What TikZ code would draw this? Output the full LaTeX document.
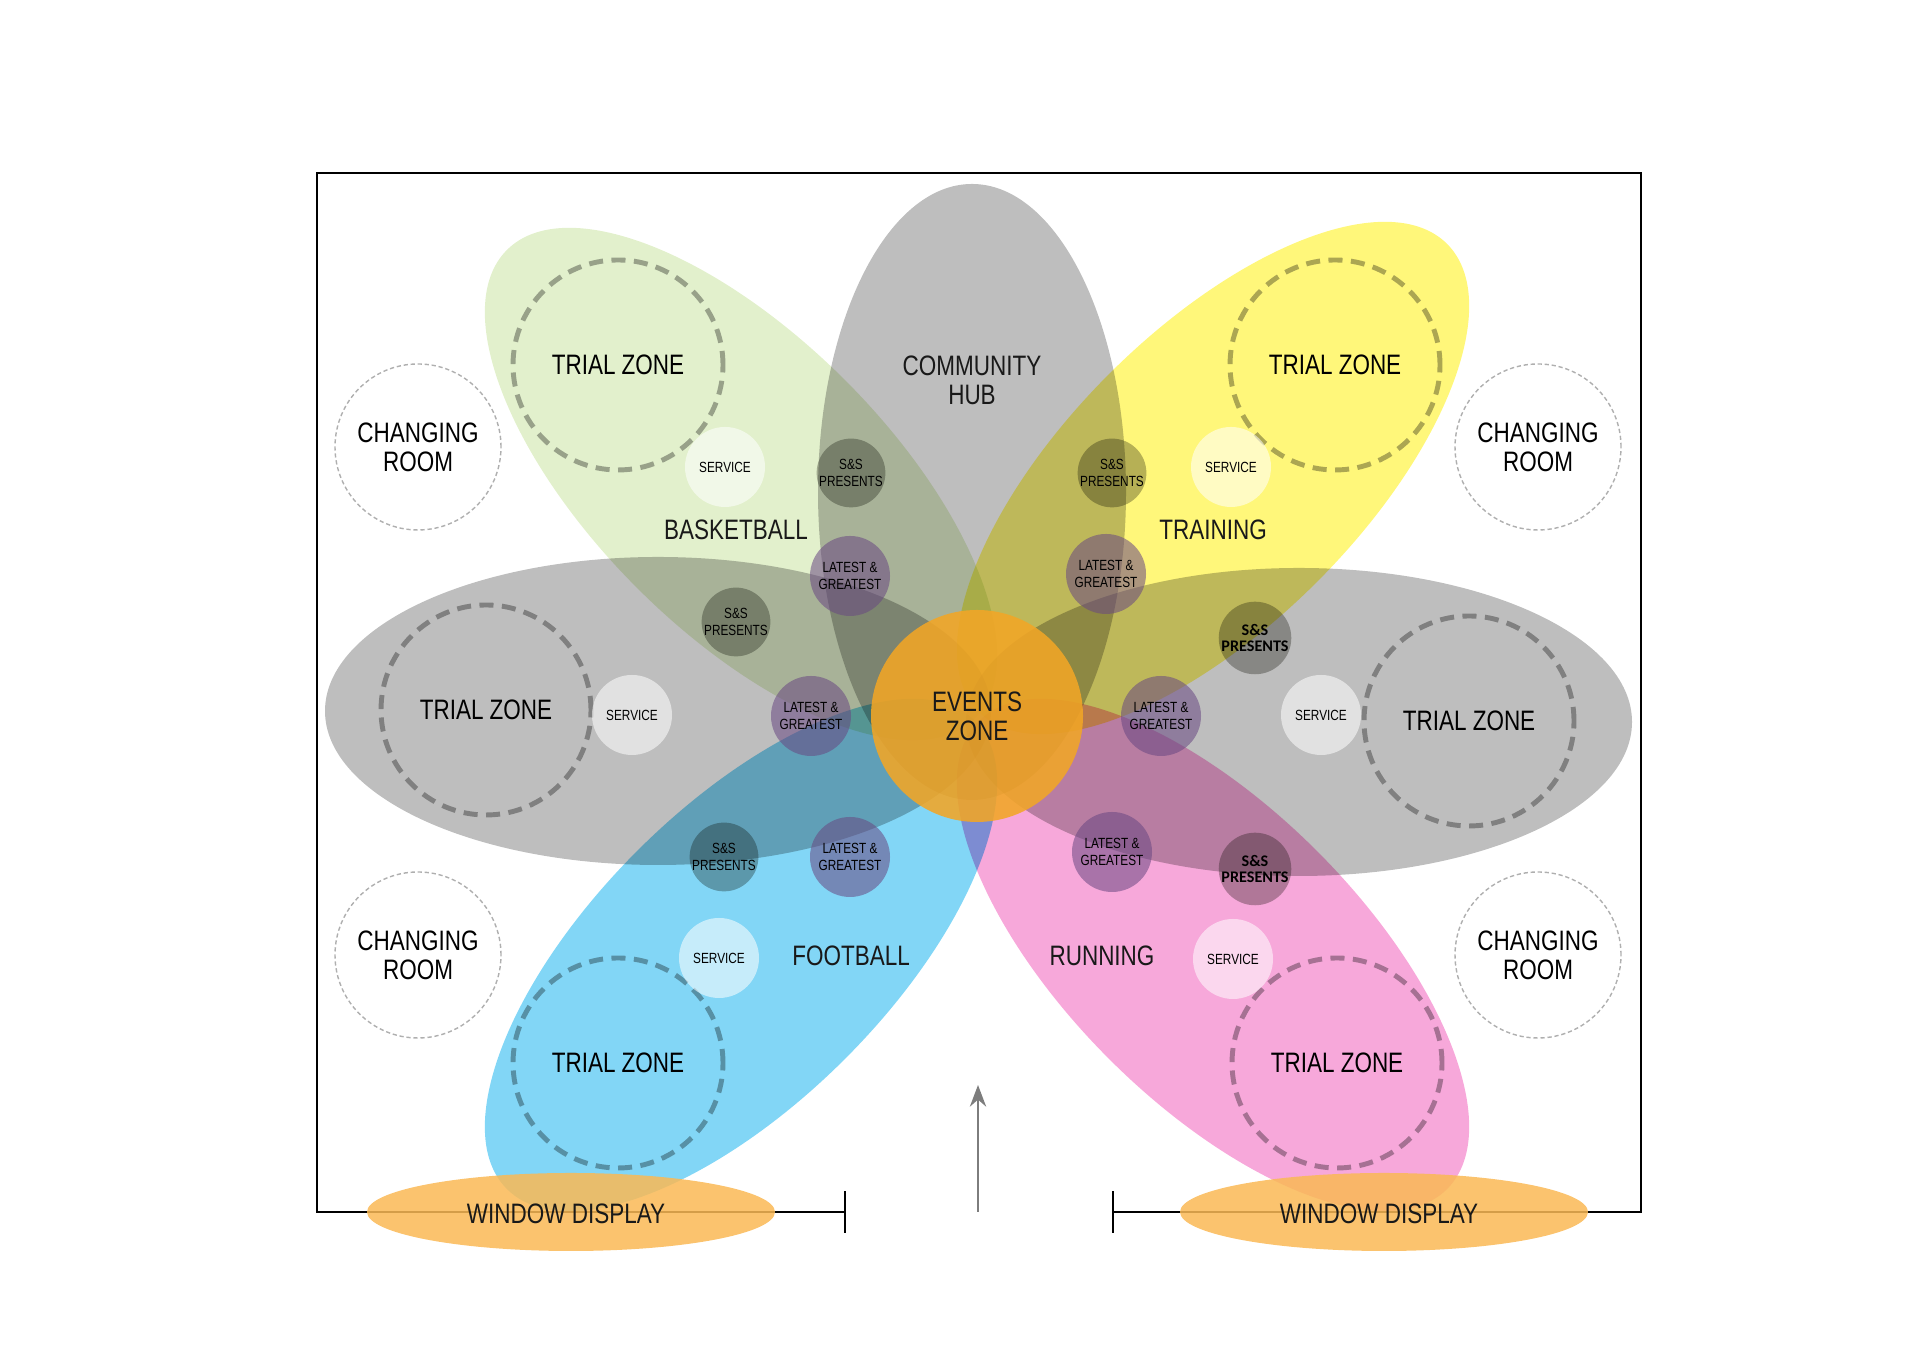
\documentclass[tikz,border=0pt]{standalone}
\usepackage{fontspec}
\setmainfont{Liberation Sans}[FakeStretch=0.8]
\newfontfamily\ssbold{Carlito}[BoldFont={Carlito Bold}]
\usepackage{tikz}
\usetikzlibrary{arrows.meta}

\definecolor{hubgray}{RGB}{190,190,190}
\definecolor{basketgreen}{RGB}{226,240,204}
\definecolor{trainyellow}{RGB}{255,247,122}
\definecolor{footblue}{RGB}{130,214,246}
\definecolor{runpink}{RGB}{247,168,218}
\definecolor{eventorange}{RGB}{242,166,38}
\definecolor{windoworange}{RGB}{250,185,85}
\definecolor{dashgray}{RGB}{172,172,172}
\definecolor{ssgray}{RGB}{182,182,178}
\definecolor{lgpurple}{RGB}{105,72,130}
\definecolor{roomgray}{RGB}{175,175,175}
\definecolor{inkgray}{RGB}{125,125,125}

\newcommand{\bigtxt}{\fontsize{8}{8.3}\selectfont}
\newcommand{\smalltxt}{\fontsize{4.2}{4.6}\selectfont}

\begin{document}
\begin{tikzpicture}[>=Stealth,
    petal/.style={blend mode=multiply},
    trial/.style={circle, draw=dashgray, line width=1.4pt, dash pattern=on 4pt off 2.4pt,
        minimum size=2.1cm, inner sep=0pt, blend mode=multiply, font=\bigtxt},
    room/.style={circle, draw=roomgray, line width=0.4pt, dash pattern=on 1.2pt off 0.8pt,
        minimum size=1.66cm, inner sep=0pt, align=center, font=\bigtxt},
    service/.style={circle, fill=white, fill opacity=0.55, text opacity=1,
        minimum size=0.8cm, inner sep=0pt, font=\smalltxt},
    sands/.style={circle, fill=ssgray, blend mode=multiply, minimum size=0.68cm,
        inner sep=0pt, align=center, font=\smalltxt},
    latest/.style={circle, fill=lgpurple, fill opacity=0.55, text opacity=1, minimum size=0.8cm,
        inner sep=0pt, align=center, font=\smalltxt},
    zonelabel/.style={align=center, font=\bigtxt, text=black!90},
    window/.style={fill=windoworange, fill opacity=0.85}]
    \useasboundingbox (0,0) rectangle (19.2,13.58);

    % the six bubbles round the events zone
    \fill[hubgray, petal] (9.72,8.66) ellipse (1.54 and 3.08);
    \fill[hubgray, petal] (6.58,6.47) ellipse (3.33 and 1.54);
    \fill[hubgray, petal] (12.99,6.36) ellipse (3.33 and 1.54);
    \fill[basketgreen, petal, shift={(7.41,8.74)}, rotate=135] (0,0) ellipse (3.31 and 1.47);
    \fill[trainyellow, petal, shift={(12.13,8.80)}, rotate=45] (0,0) ellipse (3.31 and 1.47);
    \fill[footblue, petal, shift={(7.41,4.03)}, rotate=45] (0,0) ellipse (3.31 and 1.47);
    \fill[runpink, petal, shift={(12.13,4.03)}, rotate=135] (0,0) ellipse (3.31 and 1.47);

    \node[trial] (trialbasket) at (6.18,9.93) {TRIAL ZONE};
    \node[trial] (trialtrain) at (13.35,9.93) {TRIAL ZONE};
    \node[trial] (trialwest) at (4.86,6.48) {TRIAL ZONE};
    \node[trial] (trialeast) at (14.69,6.37) {TRIAL ZONE};
    \node[trial] (trialfoot) at (6.18,2.95) {TRIAL ZONE};
    \node[trial] (trialrun) at (13.37,2.95) {TRIAL ZONE};

    \node[room] (roomnw) at (4.18,9.11) {CHANGING\\ROOM};
    \node[room] (roomne) at (15.38,9.11) {CHANGING\\ROOM};
    \node[room] (roomsw) at (4.18,4.03) {CHANGING\\ROOM};
    \node[room] (roomse) at (15.38,4.03) {CHANGING\\ROOM};

    \node[service] (servbasket) at (7.25,8.91) {SERVICE};
    \node[service] (servtrain) at (12.31,8.91) {SERVICE};
    \node[service] (servwest) at (6.32,6.43) {SERVICE};
    \node[service] (serveast) at (13.21,6.43) {SERVICE};
    \node[service] (servfoot) at (7.19,4.00) {SERVICE};
    \node[service] (servrun) at (12.33,3.99) {SERVICE};

    \node[sands] (ssbasket) at (8.51,8.85) {S\&S\\PRESENTS};
    \node[sands] (sstrain) at (11.12,8.85) {S\&S\\PRESENTS};
    \node[sands] (sswest) at (7.36,7.36) {S\&S\\PRESENTS};
    \node[sands, font=\ssbold\bfseries\fontsize{4.6}{4.8}\selectfont] (sseast) at (12.55,7.20) {S\&S\\PRESENTS};
    \node[sands] (ssfoot) at (7.24,5.01) {S\&S\\PRESENTS};
    \node[sands, font=\ssbold\bfseries\fontsize{4.6}{4.8}\selectfont] (ssrun) at (12.55,4.89) {S\&S\\PRESENTS};

    \node[latest] (lgbasket) at (8.50,7.82) {LATEST \&\\GREATEST};
    \node[latest] (lgtrain) at (11.06,7.84) {LATEST \&\\GREATEST};
    \node[latest] (lgwest) at (8.11,6.42) {LATEST \&\\GREATEST};
    \node[latest] (lgeast) at (11.61,6.42) {LATEST \&\\GREATEST};
    \node[latest] (lgfoot) at (8.50,5.01) {LATEST \&\\GREATEST};
    \node[latest] (lgrun) at (11.12,5.06) {LATEST \&\\GREATEST};

    \node[circle, fill=eventorange, fill opacity=0.88, text opacity=1, minimum size=2.12cm,
        inner sep=0pt, zonelabel] (events) at (9.77,6.42) {EVENTS\\ZONE};

    \node[zonelabel] (hub) at (9.72,9.78) {COMMUNITY\\HUB};
    \node[zonelabel] (basketball) at (7.36,8.28) {BASKETBALL};
    \node[zonelabel] (training) at (12.13,8.28) {TRAINING};
    \node[zonelabel] (football) at (8.51,4.02) {FOOTBALL};
    \node[zonelabel] (running) at (11.02,4.02) {RUNNING};

    % shop front
    \draw[line width=0.7pt] (8.45,1.46) -- (3.17,1.46) -- (3.17,11.85) -- (16.41,11.85)
        -- (16.41,1.46) -- (11.13,1.46);
    \draw[line width=0.7pt] (8.45,1.25) -- (8.45,1.67);
    \draw[line width=0.7pt] (11.13,1.25) -- (11.13,1.67);
    \coordinate (door) at (9.78,1.46);
    \coordinate (doortip) at (9.78,2.73);
    \draw[->, inkgray, line width=0.7pt] (door) -- (doortip);

    \fill[window] (5.71,1.46) ellipse (2.04 and 0.39);
    \fill[window] (13.84,1.46) ellipse (2.04 and 0.39);
    \node[zonelabel] (windowwest) at (5.66,1.44) {WINDOW DISPLAY};
    \node[zonelabel] (windoweast) at (13.79,1.44) {WINDOW DISPLAY};
\end{tikzpicture}
\end{document}
